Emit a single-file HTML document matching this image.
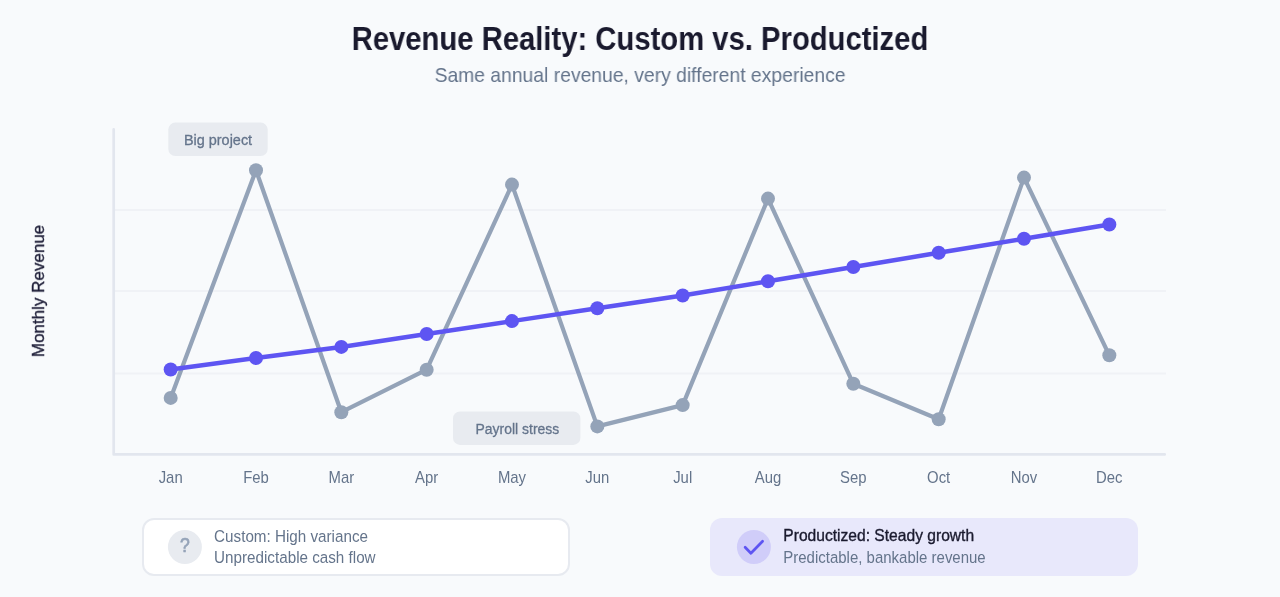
<!DOCTYPE html>
<html>
<head>
<meta charset="utf-8">
<style>
html,body{margin:0;padding:0;}
body{width:1280px;height:597px;overflow:hidden;background:#f8fafc;position:relative;font-family:"Liberation Sans",Arial,sans-serif;}
.t{position:absolute;white-space:nowrap;will-change:transform;}
#title{left:0;width:1280px;text-align:center;top:20px;transform:scaleX(0.8995);transform-origin:640px 0;font-size:32.5px;line-height:38px;font-weight:700;color:#1a1a2e;letter-spacing:0px;}
#sub{left:0;width:1280px;text-align:center;top:62.6px;transform:scaleX(0.92);transform-origin:640px 0;font-size:21px;line-height:24px;color:#64748b;}
#ylab{left:39px;top:291px;transform:translate(-50%,-50%) rotate(-90deg);font-size:17px;line-height:20px;color:#1e1e38;-webkit-text-stroke:0.35px #1e1e38;}
svg{position:absolute;left:0;top:0;will-change:transform;}
.card{position:absolute;top:518.2px;height:58px;width:428px;box-sizing:border-box;border-radius:12px;}
#c1{left:141.8px;background:#fff;border:2px solid #e7eaf0;height:58.3px;}
#c2{left:710.2px;background:#e8e8fb;height:58.3px;}
.ic{position:absolute;width:34px;height:34px;border-radius:50%;}
.l1,.l2{position:absolute;font-size:15px;line-height:18px;white-space:nowrap;}
</style>
</head>
<body>
<div class="t" id="title">Revenue Reality: Custom vs. Productized</div>
<div class="t" id="sub">Same annual revenue, very different experience</div>
<div class="t" id="ylab">Monthly Revenue</div>

<svg width="1280" height="597" viewBox="0 0 1280 597">
  <g stroke="#f0f2f6" stroke-width="2" fill="none">
    <line x1="115" y1="210" x2="1166" y2="210"/>
    <line x1="115" y1="291" x2="1166" y2="291"/>
    <line x1="115" y1="373.5" x2="1166" y2="373.5"/>
  </g>
  <path d="M113.7 129.4 V454.45 H1164.7" fill="none" stroke="#e2e6ee" stroke-width="2.7" stroke-linecap="round" stroke-linejoin="round"/>

  <rect x="168.3" y="122.6" width="99.4" height="33.4" rx="7" fill="#e8ebf0"/>
  <text transform="translate(218 144.6) scale(0.963 1)" text-anchor="middle" font-size="15" fill="#64748b" stroke="#64748b" stroke-width="0.3" font-family="Liberation Sans, sans-serif">Big project</text>
  <rect x="453" y="411.4" width="127.4" height="33.5" rx="7" fill="#e8ebf0"/>
  <text transform="translate(517.4 433.6) scale(0.93 1)" text-anchor="middle" font-size="15" fill="#64748b" stroke="#64748b" stroke-width="0.3" font-family="Liberation Sans, sans-serif">Payroll stress</text>

  <polyline fill="none" stroke="#94a3b8" stroke-width="4.2" stroke-linejoin="round" stroke-linecap="round"
    points="170.67,397.9 256,170.2 341.33,412.2 426.67,369.7 512,184.6 597.33,426.4 682.67,405.1 768,198.6 853.33,383.8 938.67,419.2 1024,177.6 1109.33,355.3"/>
  <g fill="#94a3b8">
    <circle cx="170.67" cy="397.9" r="7"/><circle cx="256" cy="170.2" r="7"/><circle cx="341.33" cy="412.2" r="7"/>
    <circle cx="426.67" cy="369.7" r="7"/><circle cx="512" cy="184.6" r="7"/><circle cx="597.33" cy="426.4" r="7"/>
    <circle cx="682.67" cy="405.1" r="7"/><circle cx="768" cy="198.6" r="7"/><circle cx="853.33" cy="383.8" r="7"/>
    <circle cx="938.67" cy="419.2" r="7"/><circle cx="1024" cy="177.6" r="7"/><circle cx="1109.33" cy="355.3" r="7"/>
  </g>
  <polyline fill="none" stroke="#5e55f2" stroke-width="4.5" stroke-linejoin="round" stroke-linecap="round"
    points="170.67,369.5 256,358 341.33,346.9 426.67,334 512,321.1 597.33,308.3 682.67,295.5 768,281.25 853.33,267 938.67,252.8 1024,238.8 1109.33,224.5"/>
  <g fill="#5e55f2">
    <circle cx="170.67" cy="369.5" r="7"/><circle cx="256" cy="358" r="7"/><circle cx="341.33" cy="346.9" r="7"/>
    <circle cx="426.67" cy="334" r="7"/><circle cx="512" cy="321.1" r="7"/><circle cx="597.33" cy="308.3" r="7"/>
    <circle cx="682.67" cy="295.5" r="7"/><circle cx="768" cy="281.25" r="7"/><circle cx="853.33" cy="267" r="7"/>
    <circle cx="938.67" cy="252.8" r="7"/><circle cx="1024" cy="238.8" r="7"/><circle cx="1109.33" cy="224.5" r="7"/>
  </g>

  <g font-size="16.2" fill="#64748b" text-anchor="middle" font-family="Liberation Sans, sans-serif">
    <text transform="translate(170.67 483.3) scale(0.92 1)">Jan</text>
    <text transform="translate(256 483.3) scale(0.92 1)">Feb</text>
    <text transform="translate(341.33 483.3) scale(0.92 1)">Mar</text>
    <text transform="translate(426.67 483.3) scale(0.92 1)">Apr</text>
    <text transform="translate(512 483.3) scale(0.92 1)">May</text>
    <text transform="translate(597.33 483.3) scale(0.92 1)">Jun</text>
    <text transform="translate(682.67 483.3) scale(0.92 1)">Jul</text>
    <text transform="translate(768 483.3) scale(0.92 1)">Aug</text>
    <text transform="translate(853.33 483.3) scale(0.92 1)">Sep</text>
    <text transform="translate(938.67 483.3) scale(0.92 1)">Oct</text>
    <text transform="translate(1024 483.3) scale(0.92 1)">Nov</text>
    <text transform="translate(1109.33 483.3) scale(0.92 1)">Dec</text>
  </g>
</svg>

<div class="card" id="c1"></div>
<div class="card" id="c2"></div>
<svg width="1280" height="597" viewBox="0 0 1280 597" font-family="Liberation Sans, sans-serif">
  <circle cx="184.9" cy="547" r="17" fill="#e8ebf0"/>
  <text transform="translate(184.9 551.8) scale(0.88 1)" font-size="20" text-anchor="middle" fill="#94a3b8" stroke="#94a3b8" stroke-width="0.7">?</text>
  <text transform="translate(214.1 541.6) scale(0.923 1)" font-size="16.5" fill="#64748b">Custom: High variance</text>
  <text transform="translate(214.1 562.9) scale(0.923 1)" font-size="16.5" fill="#64748b">Unpredictable cash flow</text>
  <circle cx="753.9" cy="547" r="17" fill="#d0cdf9"/>
  <path d="M745.1 547.2 L750.9 553.3 L762.6 541.2" fill="none" stroke="#5e55f2" stroke-width="2.7" stroke-linecap="round" stroke-linejoin="round"/>
  <text transform="translate(783.3 541.3) scale(0.947 1)" font-size="16.5" fill="#1a1a2e" stroke="#1a1a2e" stroke-width="0.35">Productized: Steady growth</text>
  <text transform="translate(783.3 562.7) scale(0.909 1)" font-size="16.5" fill="#64748b">Predictable, bankable revenue</text>
</svg>
</body>
</html>
